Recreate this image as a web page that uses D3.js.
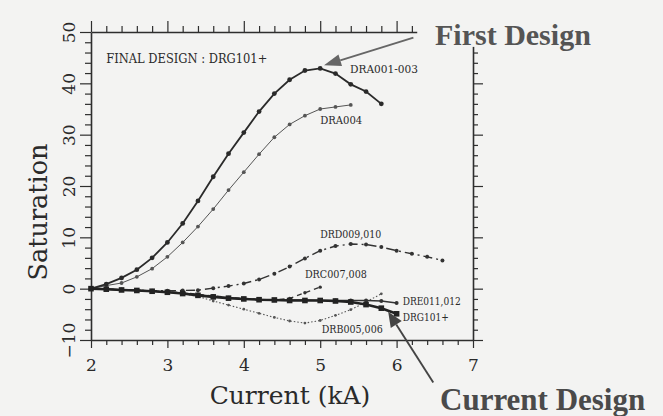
<!DOCTYPE html>
<html>
<head>
<meta charset="utf-8">
<script src="https://cdn.jsdelivr.net/npm/d3@7"></script>
<style>
  body { margin: 0; background: #f3f3f2; }
  svg { display: block; font-family: "DejaVu Serif", serif; }
  .tick text { font-family: "DejaVu Serif", serif; font-size: 17px; fill: #2a2a2a; }
  .axis path, .axis line { stroke: #2e2e2e; }
  .series_lbl { font-family: "DejaVu Serif", serif; font-size: 11px; fill: #2a2a2a; }
  .callout { font-family: "Liberation Serif", "Times New Roman", serif; font-weight: bold; }
</style>
</head>
<body>
<script>
// current (kA), 0.2 steps
var current_ka = [2.0, 2.2, 2.4, 2.6, 2.8, 3.0, 3.2, 3.4, 3.6, 3.8, 4.0, 4.2,
                  4.4, 4.6, 4.8, 5.0, 5.2, 5.4, 5.6, 5.8, 6.0, 6.2, 6.4, 6.6];

// saturation values
var dra001_003 = [0, 0.9, 2.1, 3.7, 6.0, 9.0, 12.7, 17.1, 21.8, 26.3, 30.4, 34.5, 38.0, 40.7, 42.5, 42.9, 41.9, 39.8, 38.4, 36.0];
var dra004     = [0, 0.6, 1.1, 2.3, 3.9, 6.2, 9.0, 12.1, 15.5, 19.2, 22.7, 26.2, 29.5, 32.0, 33.7, 35.0, 35.4, 35.8];
var drd009_010 = [0, -0.1, -0.2, -0.3, -0.4, -0.4, -0.35, -0.3, 0.1, 0.5, 1.0, 1.8, 2.9, 4.3, 5.9, 7.4, 8.3, 8.7, 8.6, 8.1, 7.4, 6.8, 6.2, 5.5];
var drc007_008 = [0, -0.1, -0.2, -0.3, -0.45, -0.6, -0.8, -1.1, -1.4, -1.7, -1.9, -2.1, -2.2, -1.9, -0.8, 0.3];
var drb005_006 = [0, -0.1, -0.2, -0.35, -0.5, -0.7, -1.0, -1.5, -2.4, -3.2, -4.0, -4.8, -5.6, -6.3, -6.7, -6.2, -5.2, -4.1, -2.6, -1.0];
var dre011_012 = [0, -0.1, -0.2, -0.3, -0.45, -0.65, -0.85, -1.2, -1.5, -1.8, -2.0, -2.1, -2.2, -2.2, -2.2, -2.3, -2.3, -2.3, -2.3, -2.4, -2.8];
var drg101     = [0, -0.1, -0.25, -0.35, -0.5, -0.7, -0.95, -1.3, -1.6, -1.85, -2.0, -2.15, -2.2, -2.3, -2.3, -2.3, -2.4, -2.6, -3.1, -3.8, -4.9];

var x_major_ticks = [2, 3, 4, 5, 6, 7];
var y_major_ticks = [-10, 0, 10, 20, 30, 40, 50];

var series_list = [
   {"name": "DRB005,006", "vals": drb005_006, "stroke": "#555", "width": 1.1, "dash": "1.5 2", "mark": "dot", "r": 1.4},
   {"name": "DRC007,008", "vals": drc007_008, "stroke": "#333", "width": 1.3, "dash": "5 4", "mark": "dot", "r": 1.7},
   {"name": "DRD009,010", "vals": drd009_010, "stroke": "#333", "width": 1.4, "dash": "9 4 2 4", "mark": "dot", "r": 2},
   {"name": "DRA004", "vals": dra004, "stroke": "#555", "width": 1, "dash": null, "mark": "dot", "r": 1.9},
   {"name": "DRA001-003", "vals": dra001_003, "stroke": "#2a2a2a", "width": 1.8, "dash": null, "mark": "dot", "r": 2.4},
   {"name": "DRE011,012", "vals": dre011_012, "stroke": "#333", "width": 1.4, "dash": null, "mark": "dot", "r": 2},
   {"name": "DRG101+", "vals": drg101, "stroke": "#222", "width": 2.6, "dash": null, "mark": "square", "r": 2.8}];

// series labels, anchored in data units (len = printed width)
var series_labels = [
   {"txt": "DRA001-003", "cx": 5.39, "cy": 42.1, "len": 68},
   {"txt": "DRA004", "cx": 5.0, "cy": 32.0, "len": 42},
   {"txt": "DRD009,010", "cx": 5.0, "cy": 9.9, "len": 61},
   {"txt": "DRC007,008", "cx": 4.8, "cy": 2.1, "len": 62},
   {"txt": "DRE011,012", "cx": 6.08, "cy": -3.1, "len": 58},
   {"txt": "DRG101+", "cx": 6.08, "cy": -6.3, "len": 46},
   {"txt": "DRB005,006", "cx": 5.02, "cy": -8.6, "len": 61}];

var W = 663, H = 416;
var svg_canvas = d3.select("body").append("svg").attr("width", W).attr("height", H);

var x = d3.scaleLinear().domain([2, 7]).range([91, 473]);
var y = d3.scaleLinear().domain([-10, 50]).range([340, 32]);

var x_minor = d3.range(2, 7.01, 0.2).filter(function(d) { return Math.abs(d - Math.round(d)) > 0.01; });
var y_minor = d3.range(-10, 50.01, 2).filter(function(d) { return d % 10 != 0; });

// ---- frame / axes
function draw_axis(axis_fn, transform, major, minor, major_len, minor_len, fmt, pad) {
   var g = svg_canvas.append("g").attr("class", "axis").attr("transform", transform);
   g.append("g").call(axis_fn.tickValues(minor).tickSize(minor_len).tickFormat("")).select(".domain").remove();
   g.append("g").call(axis_fn.tickValues(major).tickSize(major_len).tickSizeOuter(0).tickFormat(fmt).tickPadding(pad));
   g.selectAll("g").attr("font-family", null).attr("font-size", null);
   g.selectAll("path.domain").attr("stroke-width", 1.6);
   g.selectAll("line").attr("stroke-width", 1.2);
   return g;
}
var bottom_ax = draw_axis(d3.axisBottom(x), "translate(0," + y(-10) + ")", x_major_ticks, x_minor, 8, 5, function(d) { return d; }, 11);
var top_ax = draw_axis(d3.axisTop(x), "translate(0," + y(50) + ")", x_major_ticks, x_minor, 11, 6, "", 0);
var left_ax = draw_axis(d3.axisLeft(y), "translate(" + x(2) + ",0)", y_major_ticks, y_minor, 11, 6,
   function(d) { return d < 0 ? "\u2212" + Math.abs(d) : d; }, 0);
var right_ax = draw_axis(d3.axisRight(y), "translate(" + x(7) + ",0)", y_major_ticks, y_minor, 10, 5, "", 0);

left_ax.selectAll(".tick text")
   .attr("transform", "rotate(-90)")
   .attr("x", 0).attr("y", -16).attr("dy", 0)
   .style("text-anchor", "middle");

// the upper right corner of the frame is hidden behind the caption
svg_canvas.append("rect")
   .attr("x", x(6.27)).attr("y", 0)
   .attr("width", W - x(6.27)).attr("height", y(47.1))
   .attr("fill", "#f3f3f2");

// ---- series
var line_gen = d3.line()
   .x(function(d) { return x(d.cur); })
   .y(function(d) { return y(d.sat); });

series_list.forEach(function(s) {
   var pts = s.vals.map(function(v, i) { return {"cur": current_ka[i], "sat": v}; });
   var g = svg_canvas.append("g").attr("class", "series");
   g.append("path").datum(pts)
      .attr("d", line_gen)
      .attr("fill", "none")
      .attr("stroke", s.stroke)
      .attr("stroke-width", s.width)
      .attr("stroke-dasharray", s.dash);
   if (s.mark == "square") {
      g.selectAll("rect").data(pts).enter().append("rect")
         .attr("x", function(d) { return x(d.cur) - s.r; })
         .attr("y", function(d) { return y(d.sat) - s.r; })
         .attr("width", s.r * 2).attr("height", s.r * 2)
         .attr("fill", s.stroke);
   } else {
      g.selectAll("circle").data(pts).enter().append("circle")
         .attr("cx", function(d) { return x(d.cur); })
         .attr("cy", function(d) { return y(d.sat); })
         .attr("r", s.r)
         .attr("fill", s.stroke);
   }
});

svg_canvas.selectAll("text.series_lbl").data(series_labels).enter().append("text")
   .attr("class", "series_lbl")
   .attr("x", function(d) { return x(d.cx); })
   .attr("y", function(d) { return y(d.cy); })
   .attr("textLength", function(d) { return d.len; })
   .attr("lengthAdjust", "spacingAndGlyphs")
   .text(function(d) { return d.txt; });

svg_canvas.append("text")
   .attr("x", x(2.2)).attr("y", y(44))
   .style("font-size", "13px").attr("fill", "#2a2a2a")
   .attr("textLength", 161).attr("lengthAdjust", "spacingAndGlyphs")
   .text("FINAL DESIGN : DRG101+");

// ---- axis titles
svg_canvas.append("text")
   .attr("x", 290).attr("y", 404)
   .style("font-size", "25px").attr("fill", "#2a2a2a")
   .style("text-anchor", "middle")
   .text("Current (kA)");

svg_canvas.append("text")
   .attr("transform", "translate(47,212) rotate(-90)")
   .style("font-size", "25.5px").attr("fill", "#2a2a2a")
   .style("text-anchor", "middle")
   .text("Saturation");

// ---- call-outs
function gen_arrow(from, to, color, head_len, head_w) {
   var x1 = x(from[0]), y1 = y(from[1]), x2 = x(to[0]), y2 = y(to[1]);
   var ang = Math.atan2(y2 - y1, x2 - x1);
   var bx = x2 - head_len * Math.cos(ang), by = y2 - head_len * Math.sin(ang);
   var px = -Math.sin(ang) * head_w / 2, py = Math.cos(ang) * head_w / 2;
   svg_canvas.append("line")
      .attr("x1", x1).attr("y1", y1).attr("x2", bx).attr("y2", by)
      .attr("stroke", color).attr("stroke-width", 1.9);
   svg_canvas.append("path")
      .attr("d", "M" + x2 + "," + y2 + "L" + (bx + px) + "," + (by + py) + "L" + (bx - px) + "," + (by - py) + "Z")
      .attr("fill", color);
}
gen_arrow([6.22, 48.9], [5.05, 43.5], "#666", 17, 12);
gen_arrow([6.48, -18.3], [5.89, -4.5], "#444", 15, 13);

svg_canvas.append("text").attr("class", "callout")
   .attr("x", 435).attr("y", 45)
   .style("font-size", "30px").attr("fill", "#555")
   .text("First Design");

svg_canvas.append("text").attr("class", "callout")
   .attr("x", 440).attr("y", 410)
   .style("font-size", "31px").attr("fill", "#4a4a4a")
   .text("Current Design");
</script>
</body>
</html>
